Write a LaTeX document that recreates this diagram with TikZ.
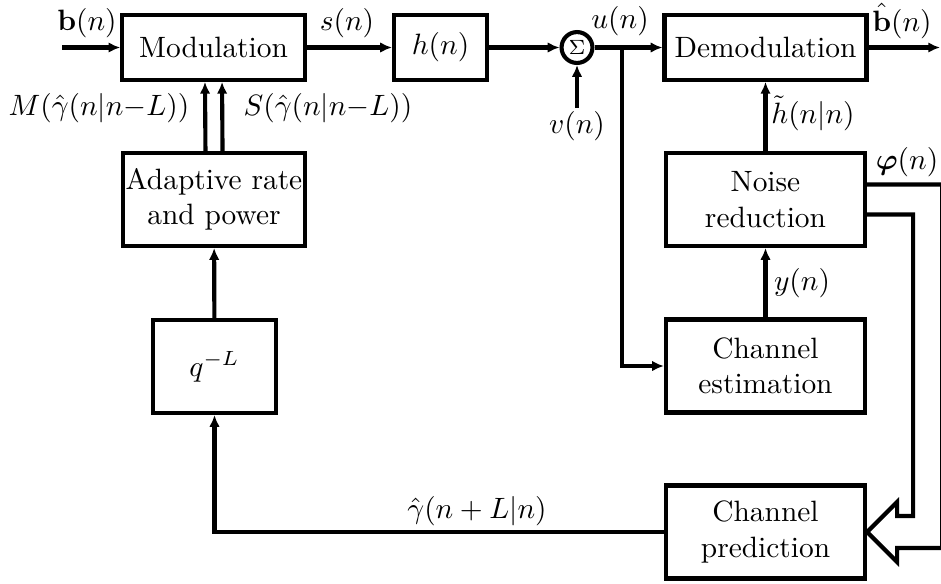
\documentclass[tikz,border=0pt]{standalone}
\usepackage{amsmath}
\usetikzlibrary{arrows.meta,calc}
\begin{document}
\begin{tikzpicture}[x=0.34pt, y=-0.34pt, line width=1.4pt, >={Latex[length=4pt,width=3.6pt]},
  box/.style={draw,align=center,minimum height=22pt,inner sep=1pt},
  tall/.style={minimum height=31.6pt},
  lab/.style={inner sep=0pt}]
\useasboundingbox (0,0) rectangle (941,583);
% blocks
\node[box,minimum width=62pt] (mod) at (213.5,47.5) {Modulation};
\node[box,minimum width=31.6pt] (hn) at (440.5,47.5) {$h(n)$};
\node[draw,circle,minimum size=10.5pt,inner sep=0pt,font=\scriptsize] (sum) at (577,47.5) {$\Sigma$};
\node[box,minimum width=68.7pt] (demod) at (765.5,47.5) {Demodulation};
\node[box,tall,minimum width=62pt] (adapt) at (214,199.5) {Adaptive rate\\and power};
\node[box,tall,minimum width=67.7pt] (noise) at (765.5,199.5) {Noise\\reduction};
\node[box,tall,minimum width=41.8pt] (qL) at (214.5,366.5) {$q^{-L}$};
\node[box,tall,minimum width=67.7pt] (est) at (765.5,366) {Channel\\estimation};
\node[box,tall,minimum width=67.7pt] (pred) at (765.5,532) {Channel\\prediction};
\coordinate (bin) at (62,47.5);
\coordinate (bout) at (940,47.5);
\coordinate (vin) at (577,108);
\coordinate (br) at (622,47.5);
% signals
\draw[->] (bin) -- (mod);
\draw[->] (mod) -- (hn);
\draw[->] (hn) -- (sum);
\draw[->] (vin) -- (sum);
\draw (sum) -- (br);
\draw[->] (br) -- (demod);
\draw[->] (br) |- (est);
\draw[->] (demod) -- (bout);
\draw[->] (noise) -- (demod);
\draw[->] (est) -- (noise);
\draw[->] (qL) -- (adapt);
\draw[->] (pred) -| (qL);
\draw[->] ([xshift=-2.9pt]adapt.north) -- ([xshift=-2.9pt]mod.south);
\draw[->] ([xshift=2.9pt]adapt.north) -- ([xshift=2.9pt]mod.south);
% hollow arrow phi(n)
\draw (noise.east) ++(0,-15) -- ++(75,0) |- ($(pred.east)+(30,16)$) -- ++(0,14) -- (pred.east)
  -- ++(30,-30) -- ++(0,14) -- ++(16,0) |- ($(noise.east)+(0,15)$);
% labels
\node[lab] (lb) at (87,23) {$\mathbf{b}(n)$};
\node[lab] (ls) at (347,23) {$s(n)$};
\node[lab] (lu) at (620,21) {$u(n)$};
\node[lab] (lbh) at (902,21) {$\hat{\mathbf{b}}(n)$};
\node[lab] (lv) at (577,126) {$v(n)$};
\node[lab] (lht) at (813,113) {$\tilde{h}(n|n)$};
\node[lab] (ly) at (802,283) {$y(n)$};
\node[lab] (lphi) at (907,162) {$\boldsymbol{\varphi}(n)$};
\node[lab] (lM) at (99,108) {$M(\hat{\gamma}(n|n{-}L))$};
\node[lab] (lS) at (328,108) {$S(\hat{\gamma}(n|n{-}L))$};
\node[lab] (lg) at (477,511) {$\hat{\gamma}(n+L|n)$};
\end{tikzpicture}
\end{document}
